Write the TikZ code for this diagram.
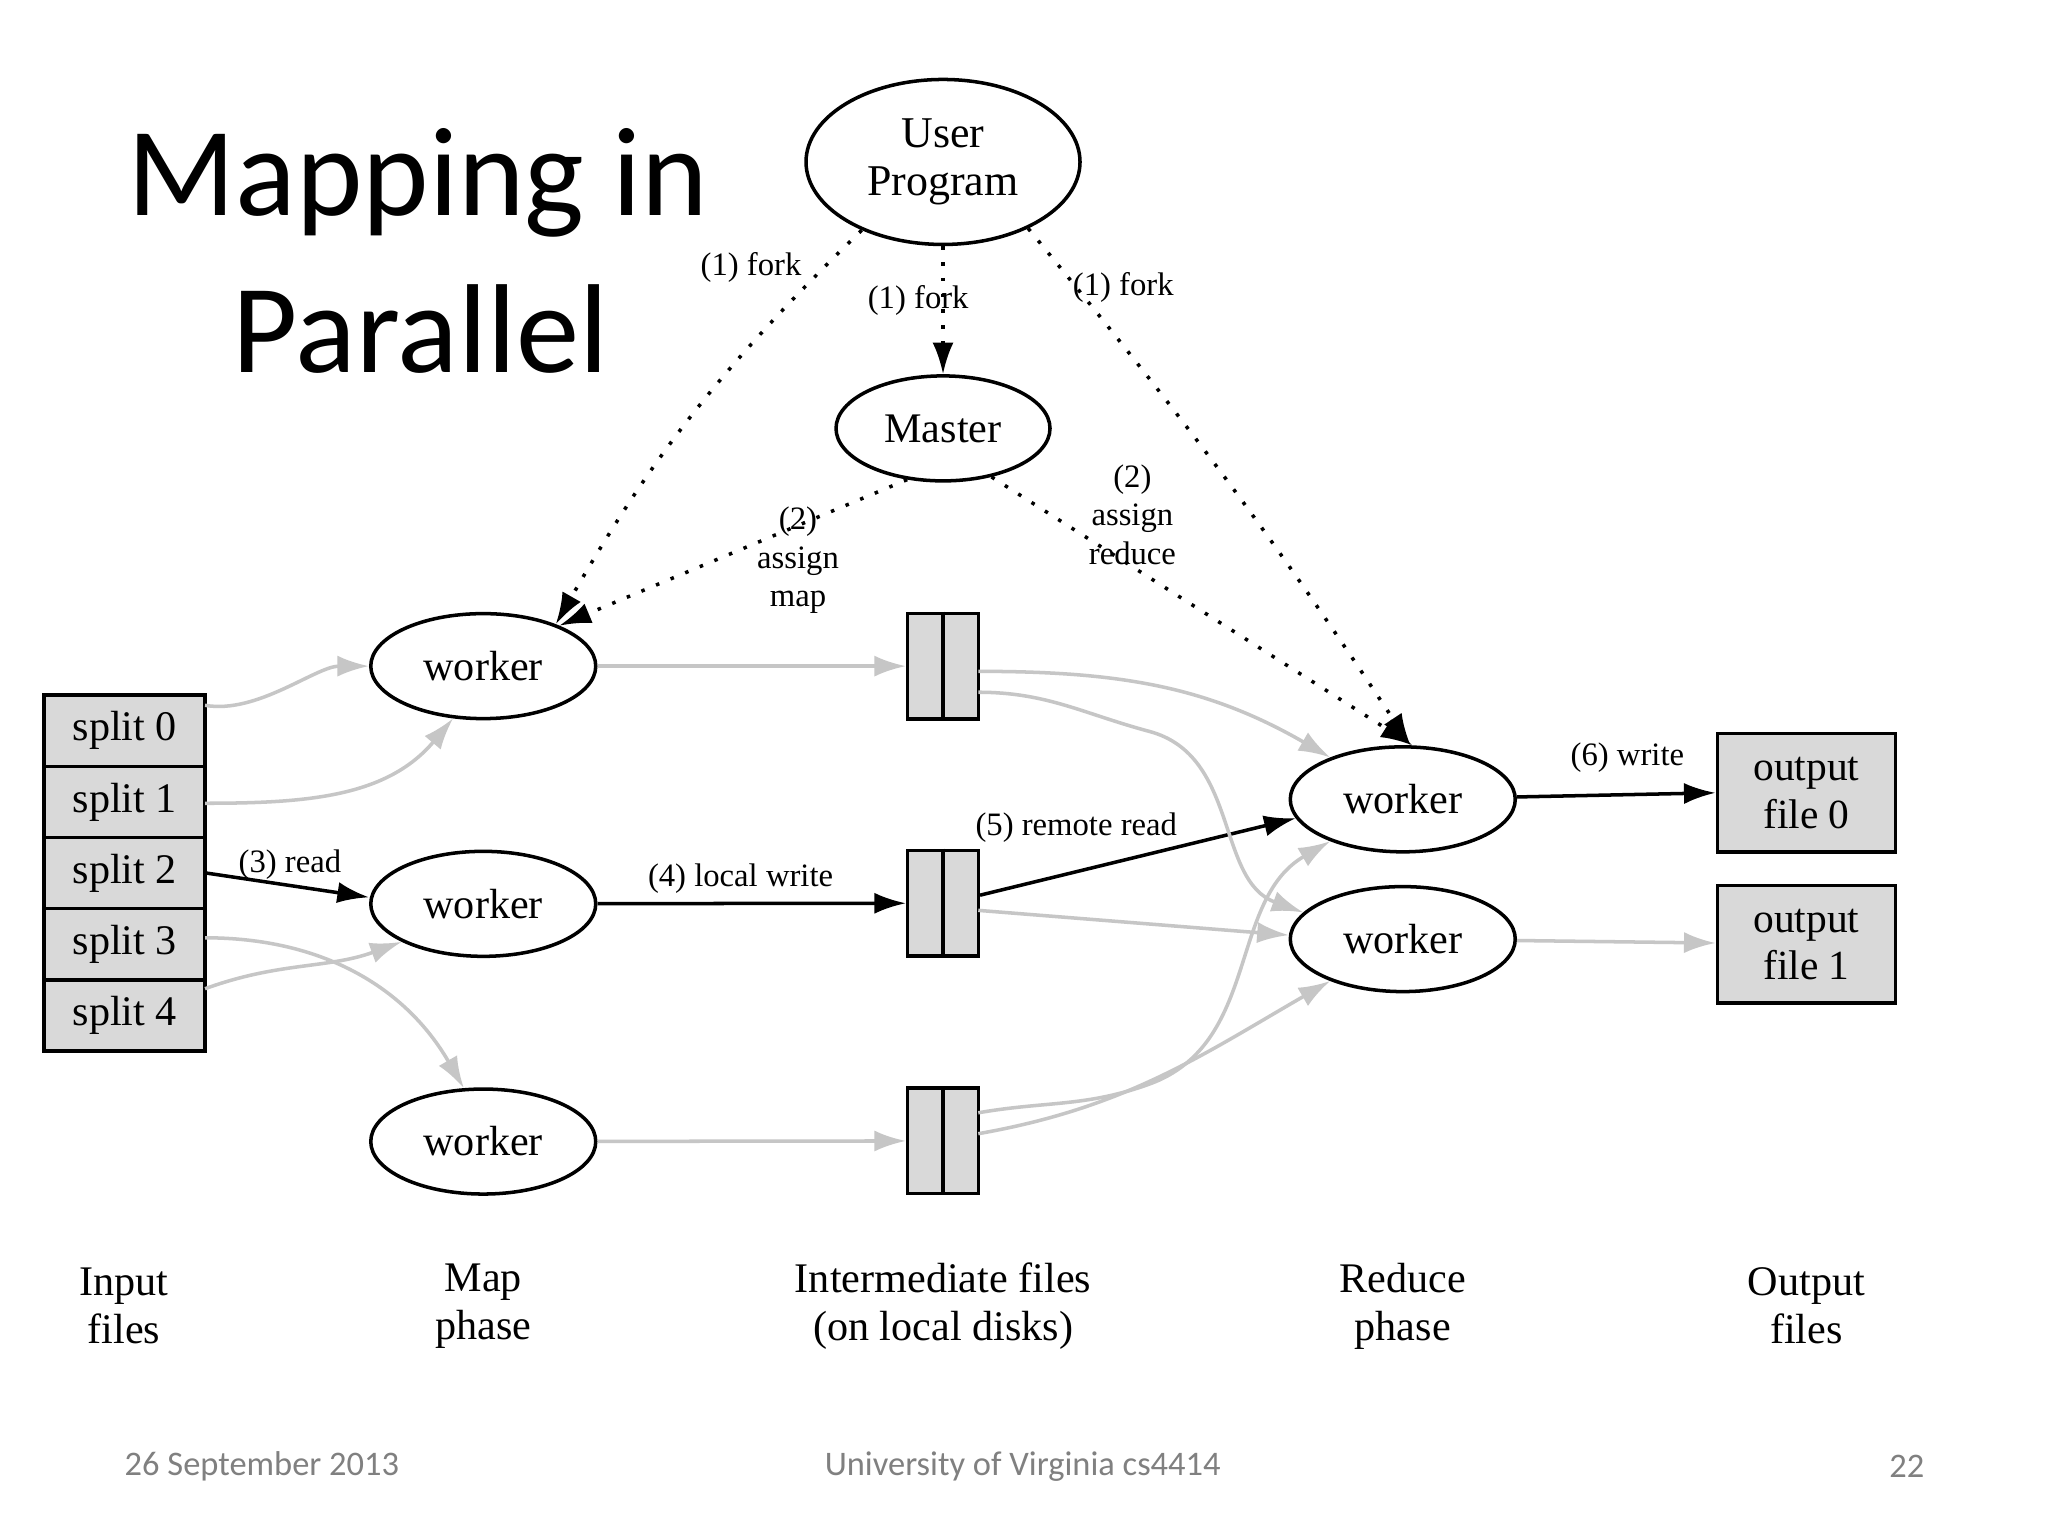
\documentclass[tikz,border=0pt]{standalone}
\usepackage{fontspec}
\setmainfont{Liberation Serif}
\newfontfamily\slide{Carlito}
\usetikzlibrary{arrows.meta,shapes.geometric}
\begin{document}
\begin{tikzpicture}[x=0.01306cm,y=-0.01306cm,
  ell/.style={ellipse,draw,line width=1pt,font=\fontsize{12}{14}\selectfont},
  box/.style={draw,line width=1pt,fill=gray!30,font=\fontsize{12}{14}\selectfont},
  lab/.style={font=\fontsize{9.3}{10.5}\selectfont,align=center,inner sep=1pt},
  phase/.style={font=\fontsize{12}{13.7}\selectfont,align=center},
  blk/.style={-{Latex[length=9pt,width=6pt]},line width=1pt},
  gry/.style={-{Latex[length=9pt,width=6pt]},line width=1pt,draw=gray!45},
  dot/.style={-{Latex[length=9pt,width=6pt]},line width=1pt,dash pattern=on 1pt off 3.5pt}]
\useasboundingbox[fill=white] (0,0) rectangle (1568,1176);
% title
\node[font=\slide\fontsize{36}{44}\selectfont] (t1) at (320,140) {Mapping in};
\node[font=\slide\fontsize{36}{44}\selectfont] (t2) at (322,252) {Parallel};
% nodes
\node[ell,minimum width=2.74cm,minimum height=1.65cm,align=center,font=\fontsize{12.5}{13.5}\selectfont] (user) at (722,124) {User\\Program};
\node[ell,minimum width=2.14cm,minimum height=1.05cm] (master) at (722,328) {Master};
\foreach \n/\y in {m1/510,m2/692,m3/874}
  \node[ell,minimum width=2.25cm,minimum height=1.05cm] (\n) at (370,\y) {worker};
\foreach \n/\y in {r1/612,r2/719}
  \node[ell,minimum width=2.25cm,minimum height=1.05cm] (\n) at (1074,\y) {worker};
\foreach \i/\y in {0/559.5,1/614,2/668.5,3/723,4/777.5}
  \node[box,minimum width=1.61cm,minimum height=0.713cm,inner sep=0pt] (s\i) at (95.5,\y) {split \i};
\foreach \n/\y in {f1/510,f2/691.5,f3/873.5}{
  \node[box,minimum width=0.706cm,minimum height=1.056cm,inner sep=0pt] (\n) at (722,\y) {};
  \draw[line width=1pt] (\n.north) -- (\n.south);}
\node[box,minimum width=1.78cm,minimum height=1.185cm,align=center,inner sep=0pt,font=\fontsize{11.8}{13.5}\selectfont] (o0) at (1383,607) {output\\file 0};
\node[box,minimum width=1.78cm,minimum height=1.175cm,align=center,inner sep=0pt,font=\fontsize{11.8}{13.5}\selectfont] (o1) at (1383,723) {output\\file 1};
% dotted
\draw[dot] (user) -- (master);
\node[lab] (lf0) at (703,230) {(1) fork};
\draw[dot] (user.220) to[bend right=8] (m1.30);
\node[lab] (lf1) at (575,205) {(1) fork};
\draw[dot] (user.-38) to[bend left=3] (r1.82);
\node[lab] (lf2) at (860,220) {(1) fork};
\draw[dot] (master.235) -- (m1.28);
\node[lab,font=\fontsize{9.3}{11}\selectfont] (la) at (611,429) {(2)\\assign\\map};
\draw[dot] (master.-45) -- (r1.80);
\node[lab,font=\fontsize{9.3}{11}\selectfont] (lr) at (867,394) {(2)\\assign\\reduce};
% black
\draw[blk] (s2.east) -- (m2.west |- 0,687);
\node[lab] (l3) at (222,662) {(3) read};
\draw[blk] (m2) -- (f2);
\node[lab] (l4) at (567,673) {(4) local write};
\draw[blk] ([yshift=0.08cm]f2.east) -- (r1.190);
\node[lab] (l5) at (824,634) {(5) remote read};
\draw[blk] (r1) -- (o0.west |- 0,607);
\node[lab] (l6) at (1246,580) {(6) write};
% grey
\draw[gry] (157,540) to[out=-10,in=180,looseness=0.8] (m1.180);
\draw[gry] (157,615) to[out=0,in=230] (m1.240);
\draw[gry] (157,718) to[out=0,in=120] (m3.110);
\draw[gry] (157,757) to[out=20,in=200] (m2.205);
\draw[gry] (m1) -- (f1);
\draw[gry] (m3) -- (f3);
\draw[gry] (749,514) to[out=0,in=150] (r1.150);
\draw[gry] (749,530) to[out=0,in=165] (880,560) to[out=-15,in=160] (r2.165);
\draw[gry] (749,697) -- (r2.178);
\draw[gry] (749,852) to[out=10,in=200] (880,830) to[out=20,in=210] (r1.210);
\draw[gry] (749,868) to[out=10,in=210] (r2.210);
\draw[gry] (r2) -- (o1.west |- 0,722);
% phases
\node[phase] (p1) at (95,1000) {Input\\files};
\node[phase] (p2) at (370,1000) {Map\\phase};
\node[phase] (p3) at (722,1000) {Intermediate files\\(on local disks)};
\node[phase] (p4) at (1074,1000) {Reduce\\phase};
\node[phase] (p5) at (1383,1000) {Output\\files};
% footer
\node[font=\slide\fontsize{9.8}{12}\selectfont,text=gray,anchor=west] (d) at (86,1123) {26 September 2013};
\node[font=\slide\fontsize{9.8}{12}\selectfont,text=gray] (u) at (783,1123) {University of Virginia cs4414};
\node[font=\slide\fontsize{9.8}{12}\selectfont,text=gray] (n) at (1460,1123) {22};
\end{tikzpicture}
\end{document}
